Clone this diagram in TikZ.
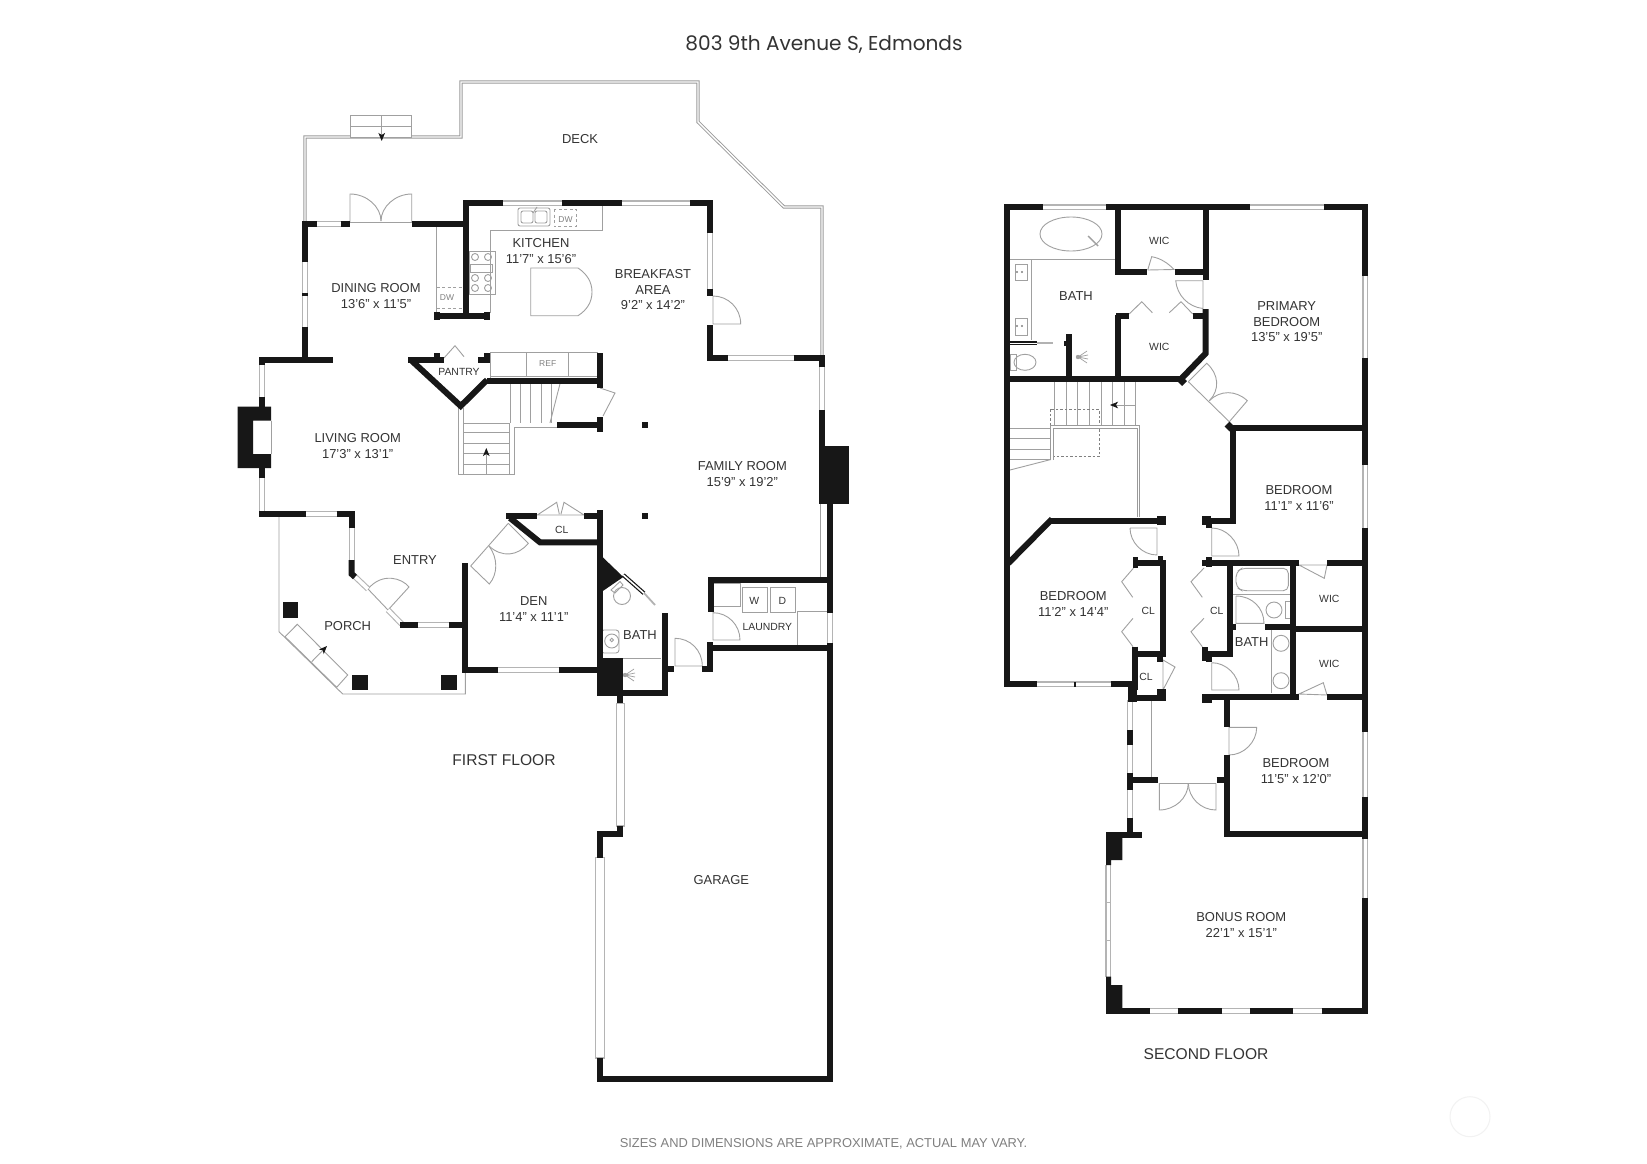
\documentclass[tikz,border=0pt]{standalone}
\usepackage{fontspec}
\setmainfont{Liberation Sans}
\newfontfamily\titlefont{Poppins}
\usetikzlibrary{arrows.meta}
\definecolor{wallc}{HTML}{171717}
\definecolor{txtc}{HTML}{333333}
\definecolor{linec}{HTML}{A0A0A0}
\definecolor{railc}{HTML}{9A9A9A}
\definecolor{winc}{HTML}{B4B4B4}
\tikzset{
  wall/.style={draw=wallc,line width=6pt,line join=miter,line cap=butt},
  block/.style={fill=wallc,draw=none},
  win/.style={draw=winc,double=white,double distance=3.6pt,line width=1.1pt},
  bigwin/.style={draw=winc,fill=white,line width=1.4pt},
  rail/.style={draw=railc,double=white,double distance=1.4pt,line width=0.9pt},
  glass/.style={draw=wallc,double=white,double distance=1.6pt,line width=1.2pt},
  thinl/.style={draw=linec,line width=0.9pt},
  dashl/.style={draw=linec,line width=0.9pt,dash pattern=on 3pt off 2.5pt},
  dashd/.style={draw=gray,line width=0.9pt,dash pattern=on 2.5pt off 2pt},
  arr/.style={draw=linec,line width=0.9pt,-{Stealth[length=8pt,width=6.5pt,inset=2pt,color=wallc]}},
  lab/.style={text=txtc,align=center,inner sep=0pt,yshift=-0.8pt,font=\fontsize{12.95}{15.6}\selectfont},
  small/.style={text=txtc,align=center,inner sep=0pt,yshift=-0.5pt,font=\fontsize{10.4}{12}\selectfont},
  tiny/.style={text=gray,align=center,inner sep=0pt,font=\fontsize{8.5}{10}\selectfont},
  flr/.style={text=txtc,inner sep=0pt,font=\fontsize{15.6}{18}\selectfont},
}
\newcommand{\rays}[2]{\draw[thinl,line width=0.7pt] (#1,#2)--++(9,-6) (#1,#2)--++(10,-2) (#1,#2)--++(10,2) (#1,#2)--++(9,6);\fill[linec] (#1,#2) circle (2.2);}
\begin{document}
\begin{tikzpicture}[x=1pt,y=-1pt]
\useasboundingbox (0,0) rectangle (1647,1164);
\fill[white] (0,0) rectangle (1647,1164);

% ---------- title, notes ----------
\node[text=txtc,inner sep=0pt,font=\fontsize{20.1}{23}\selectfont\titlefont] (title) at (824,45) {803 9th Avenue S, Edmonds};
\node[flr] (firstfloor) at (504,760.5) {FIRST FLOOR};
\node[flr] (secondfloor) at (1206,1054) {SECOND FLOOR};
\node[text=gray,inner sep=0pt,font=\fontsize{12.9}{14}\selectfont] (note) at (823.5,1143.5) {SIZES AND DIMENSIONS ARE APPROXIMATE, ACTUAL MAY VARY.};
\draw[draw=black!5,line width=1pt] (1470,1116.7) circle (20);

% ---------- FIRST FLOOR: deck ----------
\draw[rail] (305,222)--(305,137)--(461,137)--(461,82)--(698,82)--(698,122)--(784,207)--(822,207)--(822,356);
\draw[thinl,fill=white] (350,115) rectangle (411.7,137);
\draw[thinl] (350,126.7)--(411.7,126.7);
\draw[arr] (381.7,115)--(381.7,141);

% ---------- porch ----------
\draw[thinl] (279,516)--(279,631.7)--(342.7,694)--(465.3,694)--(465.3,672);
\draw[thinl] (285,636.7)--(297.3,624.3)--(347.7,675)--(336.7,687.3)--cycle;
\draw[arr] (311.7,661.7)--(327,646);
\fill[block] (282.7,602.3) rectangle (298.3,617.7);
\fill[block] (351.7,674.7) rectangle (367.7,690);
\fill[block] (441,674.7) rectangle (457,690);

% ---------- fixtures, first floor ----------
% dining double door
\draw[thinl] (350,222)--(350,194) .. controls (367,194) and (381,207) .. (381,221);
\draw[thinl] (411.7,222)--(411.7,194) .. controls (395,194) and (381,207) .. (381,221);
\draw[thinl] (350,222)--(411.7,222);
% counters
\draw[thinl] (436.7,224)--(436.7,313);
\draw[dashl] (436.7,287)--(463,287) (436.7,308)--(463,308);
\node[tiny] (dwa) at (447,297.7) {DW};
\draw[thinl] (490,313)--(490,230)--(602,230)--(602,206);
\draw[thinl,rounded corners=2pt] (518,208) rectangle (550,226);
\draw[thinl,rounded corners=2pt] (521,211) rectangle (533,223) (535,211) rectangle (547,223);
\draw[thinl] (533,213)--(537,207);
\draw[dashl] (554,209) rectangle (576,226.7);
\node[tiny] (dwb) at (565.5,219.5) {DW};
\draw[thinl] (469,251.7) rectangle (495,294);
\draw[thinl] (470.7,264) rectangle (492.7,272);
\foreach \cx/\cy in {475/257,488/257,475/278,488/278,475/288,488/288}{\draw[thinl] (\cx,\cy) circle (3.5);}
\draw[thinl] (578,268)--(530.7,268)--(530.7,315.7)--(578,315.7) .. controls (587,310) and (592,302) .. (592,292) .. controls (592,282) and (587,274) .. (578,268);
% breakfast door
\draw[thinl] (713,296)--(713,324)--(740.7,324) .. controls (740.7,308) and (728,296) .. (713,296);
% ref
\draw[thinl] (490,352.7)--(598,352.7) (490,376.7)--(598,376.7) (490,352.7)--(490,380);
\draw[thinl] (526.7,352.7)--(526.7,376.7) (568,352.7)--(568,376.7);
\node[tiny] (ref) at (547.7,364) {REF};
% pantry door
\draw[thinl] (444,358)--(455,345.7)--(464,356.7);
% hall closet door
\draw[thinl] (600,388)--(615,393)--(603,416);
% stairs
\draw[thinl] (458.7,408)--(458.7,474.3)--(514.7,474.3)--(514.7,427.3)--(557,427.3);
\draw[thinl] (463.7,408)--(463.7,474.3) (509.3,423)--(509.3,474.3);
\foreach \ty in {423,432.7,443.3,453.3,464}{\draw[thinl] (463.7,\ty)--(509.3,\ty);}
\foreach \tx in {510,520.3,530.7,541,551.7}{\draw[thinl] (\tx,381)--(\tx,423);}
\draw[thinl] (560.7,381)--(550,423);
\draw[arr] (486.3,474)--(486.3,448);
% posts
\fill[block] (642.3,422.3) rectangle (648.3,428.3);
\fill[block] (642.3,513) rectangle (648.3,519);
% closet door
\draw[thinl] (537.3,515)--(556.7,502.3)--(559.3,514) (584,515)--(564,502.3)--(561,514) (537,515)--(584,515);
% den double door
\draw[thinl] (470.7,566)--(489.3,584) .. controls (498,574) and (498,558) .. (489,546);
\draw[thinl] (508.3,523.3)--(528.3,543.3) .. controls (518,556) and (502,558) .. (489,546);
\draw[thinl] (470.7,566)--(508.3,523.3);
% entry door
\draw[thinl] (388,610)--(409,587) .. controls (402,578) and (382,572) .. (368,589);
\draw[thinl] (368,589)--(388,610);
% bath
\draw[thinl] (622,596) circle (8.5);
\draw[thinl] (611,590)--(620,581.5)--(623,585)--(615,593)--cycle;
\draw[thinl,rounded corners=3pt] (601,630) rectangle (619,653);
\draw[thinl] (611.7,641) circle (7);
\draw[thinl] (611.7,640) circle (1.8);
\draw[thinl] (623,658)--(661,658);
\rays{625}{675}
\draw[thinl,line width=1.8pt,draw=gray!60] (644,593)--(655,605);
\draw[thinl] (675,666)--(675,638.3) .. controls (690,638.3) and (702.3,650) .. (702.3,666)--cycle;
% laundry
\draw[thinl] (713,583)--(740,583)--(740,606.7)--(713,606.7);
\draw[thinl] (742.3,587.3) rectangle (767.3,612.7);
\draw[thinl] (770,587.3) rectangle (795,612.7);
\node[small] (w) at (754.3,600) {W};
\node[small] (d) at (782.3,600) {D};
\node[small] (laundry) at (767.3,626) {LAUNDRY};
\draw[thinl] (797.7,647)--(797.7,611.7)--(828,611.7);
\draw[thinl] (713,612)--(713,640)--(740,640) .. controls (740,625) and (728,612.7) .. (713,612.7);
\draw[thinl] (820,504)--(820,578);
\draw[thinl] (271,420.7)--(271,454);

% ---------- first floor windows ----------
\draw[win] (305,262)--(305,327);
\draw[win] (317,224)--(341,224);
\draw[win] (503,203.3)--(562,203.3);
\draw[win] (622,203.3)--(690,203.3);
\draw[win] (710,233)--(710,292);
\draw[win] (728,358)--(794,358);
\draw[win] (822,367)--(822,410);
\draw[win] (261.7,365)--(261.7,397);
\draw[win] (261.7,478)--(261.7,511);
\draw[win] (306,513.7)--(336.7,513.7);
\draw[win] (351.7,528)--(351.7,560);
\draw[win] (353.3,575)--(368,589);
\draw[win] (388,610)--(401.7,624);
\draw[win] (418,625)--(449,625);
\draw[win] (498,670)--(559,670);
\draw[win] (830,613)--(830,643);
\draw[glass] (623.3,575)--(644,593.3);
\draw[bigwin] (616.3,703.3) rectangle (624.3,826);
\draw[bigwin] (595.7,857.7) rectangle (604.3,1058);

% ---------- first floor walls ----------
\draw[wall] (305,221)--(305,262) (305,327)--(305,360);
\fill[block] (302,292.5) rectangle (308,296);
\draw[wall] (302,224)--(317,224) (341,224)--(350,224) (412,224)--(468,224);
\draw[wall] (503,203.3)--(465.7,203.3)--(465.7,317);
\draw[wall] (562,203.3)--(622,203.3);
\draw[wall] (690,203.3)--(710,203.3)--(710,233);
\draw[wall] (707.3,292)--(712.7,292) (710,292)--(710,296);
\draw[wall] (710,325)--(710,358)--(728,358);
\draw[wall] (794,358)--(825,358);
\draw[wall] (822,355)--(822,367);
\draw[wall] (434,316)--(490,316);
\fill[block] (434,312) rectangle (440,320);
\fill[block] (484,312) rectangle (490,320);
\draw[wall] (261.7,365)--(261.7,360)--(333,360);
\draw[wall] (408,360)--(444,360);
\fill[block] (434,353) rectangle (440,362);
\draw[wall] (412,361)--(460.7,406)--(487,380);
\draw[wall] (478,360)--(490,360);
\fill[block] (484,353) rectangle (490,362);
\draw[wall] (487,380.7)--(602,380.7);
\draw[wall] (599.5,353)--(599.5,388) (599.5,417)--(599.5,432);
\draw[wall] (557,425)--(600,425);
\fill[block] (237.7,406.7)--(271,406.7)--(271,420.7)--(253,420.7)--(253,454)--(271,454)--(271,468)--(237.7,468)--cycle;
\draw[wall] (261.7,397)--(261.7,407) (261.7,468)--(261.7,478);
\draw[wall] (259,513.7)--(306,513.7);
\draw[wall] (336.7,513.7)--(351.7,513.7)--(351.7,528);
\draw[wall] (351.7,560)--(351.7,574)--(355,577);
\draw[wall] (400,625)--(418,625) (449,625)--(465,625);
\draw[wall] (465.3,563)--(465.3,673);
\draw[wall] (463,670)--(498,670) (559,670)--(600,670);
\draw[wall] (600,510)--(600,696);
\draw[wall] (506,516.3)--(537,516.3) (584,516.3)--(600,516.3);
\draw[wall] (510,518)--(540,542.3)--(600,542.3);
\fill[block] (597,551.7)--(623.3,577)--(597,595)--cycle;
\fill[block] (596.7,658.3) rectangle (623.3,696);
\draw[wall] (620,693)--(667,693);
\draw[wall] (664.5,613)--(664.5,696);
\draw[wall] (664,668.7)--(674,668.7);
\draw[wall] (702.3,669)--(712.7,669);
\draw[wall] (710,642)--(710,671.5);
\draw[wall] (620,696)--(620,703.3);
\draw[wall] (708,580)--(833,580);
\draw[wall] (710.7,580)--(710.7,612);
\draw[wall] (710,647.7)--(830,647.7);
\draw[wall] (830,504)--(830,613) (830,643)--(830,1082);
\draw[wall] (597.3,1079.3)--(832.7,1079.3);
\draw[wall] (600,1058)--(600,1082);
\draw[wall] (600,857.7)--(600,834)--(623.3,834);
\draw[wall] (620,826)--(620,837);
\fill[block] (819.3,446) rectangle (849.3,504);
\draw[wall] (822.3,410)--(822.3,446);

% ---------- first floor labels ----------
\node[lab] (deck) at (580,138) {DECK};
\node[lab] (dining) at (376,295) {DINING ROOM\\13’6” x 11’5”};
\node[lab] (kitchen) at (541,250) {KITCHEN\\11’7” x 15’6”};
\node[lab] (breakfast) at (653,289) {BREAKFAST\\AREA\\9’2” x 14’2”};
\node[small] (pantry) at (459,371.7) {PANTRY};
\node[lab] (living) at (357.7,445) {LIVING ROOM\\17’3” x 13’1”};
\node[lab] (family) at (742.3,473) {FAMILY ROOM\\15’9” x 19’2”};
\node[lab] (entry) at (415,559.3) {ENTRY};
\node[small] (cla) at (561.7,529) {CL};
\node[lab] (den) at (533.7,608) {DEN\\11’4” x 11’1”};
\node[lab] (porch) at (347.7,625.7) {PORCH};
\node[lab] (bathb) at (640,634) {BATH};
\node[lab] (garage) at (721.3,879.3) {GARAGE};

% ---------- SECOND FLOOR fixtures ----------
\draw[thinl] (1071,234) ellipse (31 and 17);
\draw[thinl,line width=1.4pt] (1088,236)--(1098,246);
\draw[thinl] (1010,259)--(1118,259);
\draw[thinl] (1031.7,259)--(1031.7,340);
\draw[thinl] (1015,264) rectangle (1027.3,280.7);
\draw[thinl] (1015,318.3) rectangle (1027.3,335);
\fill[gray] (1017,272) circle (1.2) (1022,272) circle (1.2) (1017,326) circle (1.2) (1022,326) circle (1.2);
\draw[thinl] (1025,362.3) ellipse (11 and 8);
\draw[thinl] (1010,354) rectangle (1016,370);
\rays{1078}{357}
\draw[thinl,line width=1.8pt,draw=gray!60] (1037,343.3)--(1052.7,343.3);
\draw[glass] (1010,343.3)--(1037,343.3);
% upper wic door, east door
\draw[thinl] (1147.7,270)--(1151.7,256.7) .. controls (1160,258) and (1168,263) .. (1174,269.5)--(1147.7,270);
\draw[thinl] (1203,280.7)--(1175.7,280.7) .. controls (1177,295) and (1188,307) .. (1203,308.5)--cycle;
% lower wic bifolds
\draw[thinl] (1129.3,314)--(1141.7,301.7)--(1152.3,312.7);
\draw[thinl] (1192.7,314)--(1181,301.7)--(1169.3,312.7);
% primary double door
\draw[thinl] (1188.3,381.7)--(1206.7,363.3) .. controls (1219,374) and (1220,390) .. (1209.3,400.7);
\draw[thinl] (1229.3,421.7)--(1247.3,400.7) .. controls (1236,390) and (1220,390) .. (1209.3,400.7);
\draw[thinl] (1188.3,381.7)--(1229.3,421.7);
% stairs
\foreach \tx in {1054.3,1066,1077.7,1089.3,1101}{\draw[thinl] (\tx,382)--(\tx,426);}
\foreach \tx in {1112.7,1124,1135.7}{\draw[thinl] (\tx,382)--(\tx,425);}
\foreach \ty in {428.3,438.3,449,459.3}{\draw[thinl] (1010,\ty)--(1051.7,\ty);}
\draw[thinl] (1010,470)--(1051.7,459.3);
\draw[arr] (1135.7,405)--(1110,405);
\draw[dashd] (1050,409.3) rectangle (1099,456.7);
\draw[rail] (1052,460)--(1052,427)--(1138.3,427)--(1138.3,517);
% bedroom doors
\draw[thinl] (1130,528)--(1157,528)--(1157,555) .. controls (1142,555) and (1130,542) .. (1130,528);
\draw[thinl] (1211.7,528)--(1211.7,556)--(1239,556) .. controls (1239,541) and (1226,528) .. (1211.7,528);
\draw[thinl] (1211.7,662.7)--(1211.7,690)--(1239,690) .. controls (1239,675) and (1226,662.7) .. (1211.7,662.7);
% closets bifold
\draw[thinl] (1133.3,568.3)--(1121.7,581.7)--(1132.7,597.3);
\draw[thinl] (1133,618.3)--(1121.7,631.7)--(1133,646.7);
\draw[thinl] (1204,568)--(1191,581.7)--(1202.3,597.3);
\draw[thinl] (1204,618.3)--(1191,631.7)--(1202.3,646.7);
\draw[thinl] (1163,660)--(1175,667)--(1163,690)--cycle;
% hall bath
\draw[thinl,rounded corners=5pt] (1288.3,568.3) -- (1242,568.3) -- (1236,572) -- (1236,587) -- (1242,590.7) -- (1288.3,590.7) -- cycle;
\draw[thinl] (1233,594)--(1290,594);
\draw[thinl] (1236,596)--(1236,623.3)--(1264,623.3) .. controls (1264,608) and (1252,596) .. (1236,596);
\draw[thinl] (1274,610) circle (8);
\draw[thinl] (1285,601.7) rectangle (1290,618.3);
\draw[thinl] (1271,630)--(1271,693);
\draw[thinl] (1281,643.3) circle (8);
\draw[thinl] (1281,680.7) circle (8);
\draw[thinl] (1212,694)--(1290,694);
% wic doors
\draw[thinl] (1299,565)--(1324.3,578.3)--(1327,565)--cycle;
\draw[thinl] (1299,694)--(1323.3,682.7)--(1327,695)--cycle;
% hall
\draw[thinl] (1151.7,700)--(1151.7,780);
\draw[thinl] (1159.3,783.3)--(1216,783.3);
\draw[thinl] (1159.3,783.3)--(1159.3,810) .. controls (1175,810) and (1188,798) .. (1188.3,783.3);
\draw[thinl] (1216,783.3)--(1216,810) .. controls (1201,810) and (1188.6,798) .. (1188.3,783.3);
\draw[thinl] (1229,727.3)--(1256.7,727.3) .. controls (1256.7,742) and (1244,755) .. (1229,755)--cycle;

% ---------- second floor windows ----------
\draw[win] (1043,207.3)--(1106,207.3);
\draw[win] (1250,207.3)--(1324.3,207.3);
\draw[win] (1365.3,276)--(1365.3,358);
\draw[win] (1365.3,465)--(1365.3,528);
\draw[win] (1365.3,732)--(1365.3,797);
\draw[win] (1365.3,839)--(1365.3,898);
\draw[win] (1037.3,684.3)--(1110.7,684.3);
\draw[win] (1130,700)--(1130,730);
\draw[win] (1130,745)--(1130,773);
\draw[win] (1130,790)--(1130,818);
\draw[win] (1108.3,865)--(1108.3,976.7);
\draw[win] (1150,1010.7)--(1178.3,1010.7);
\draw[win] (1221.7,1010.7)--(1250,1010.7);
\draw[win] (1293.3,1010.7)--(1321.7,1010.7);
\draw[draw=winc,line width=1pt] (1105.5,902.7)--(1111,902.7) (1105.5,940)--(1111,940);

% ---------- second floor walls ----------
\draw[wall] (1043,207.3)--(1007.3,207.3)--(1007.3,687);
\draw[wall] (1005,684.3)--(1037.3,684.3) (1110.7,684.3)--(1135,684.3);
\fill[block] (1073.5,681.5) rectangle (1076,687);
\draw[wall] (1106,207.3)--(1250,207.3);
\draw[wall] (1324.3,207.3)--(1365.3,207.3)--(1365.3,276);
\draw[wall] (1365.3,358)--(1365.3,465) (1365.3,528)--(1365.3,732) (1365.3,797)--(1365.3,839) (1365.3,898)--(1365.3,1013.3);
\draw[wall] (1106,1010.7)--(1150,1010.7) (1178.3,1010.7)--(1221.7,1010.7) (1250,1010.7)--(1293.3,1010.7) (1321.7,1010.7)--(1368,1010.7);
\fill[block] (1106,832.3)--(1122.3,832.3)--(1122.3,860)--(1111,860)--(1111,865)--(1106,865)--cycle;
\fill[block] (1106,1013.5)--(1106,976.7)--(1111,976.7)--(1111,985)--(1122.3,985)--(1122.3,1013.5)--cycle;
\draw[wall] (1106,835)--(1142.3,835);
\draw[wall] (1129.7,818)--(1129.7,832);
\draw[wall] (1224,834.3)--(1368,834.3);
\draw[wall] (1226.5,755)--(1226.5,837) (1226.5,695)--(1226.5,726.7);
\draw[wall] (1127.3,780)--(1158.3,780) (1216.7,780)--(1226.7,780);
\fill[block] (1127.3,730) rectangle (1132.7,745);
\fill[block] (1127.3,773) rectangle (1132.7,790);
\draw[wall] (1202.3,697.3)--(1299,697.3) (1327.3,697.3)--(1365,697.3);
\draw[wall] (1202,562.7)--(1299,562.7) (1327.3,562.7)--(1365,562.7);
\fill[block] (1202,694) rectangle (1212,702.7);
\fill[block] (1206,556.7) rectangle (1212,567.3);
\draw[wall] (1230,560)--(1230,657);
\draw[wall] (1202.7,654.3)--(1233,654.3);
\fill[block] (1202,646.7) rectangle (1208,661);
\fill[block] (1206,654) rectangle (1212,662);
\draw[wall] (1293.3,560)--(1293.3,700);
\draw[wall] (1293,629)--(1365,629);
\draw[wall] (1265,626.7)--(1293,626.7);
\fill[block] (1232,624) rectangle (1236,630);
\draw[wall] (1050,520.7)--(1165.7,520.7);
\draw[wall] (1052,519)--(1008.3,563.3);
\fill[block] (1157.3,516) rectangle (1165.7,525);
\draw[wall] (1202.3,520.7)--(1233,520.7)--(1233,426);
\fill[block] (1202,516) rectangle (1211,525);
\fill[block] (1206,524) rectangle (1212,528);
\draw[wall] (1230,428)--(1368,428);
\draw[wall] (1133.3,563.3)--(1165.7,563.3);
\fill[block] (1133,557) rectangle (1138,568);
\fill[block] (1157.5,556) rectangle (1163,561);
\draw[wall] (1163.3,560)--(1163.3,656);
\draw[wall] (1135,654)--(1166,654);
\draw[wall] (1135,646.7)--(1135,690);
\fill[block] (1127.7,686.7) rectangle (1137.3,701.7);
\draw[wall] (1130,697.7)--(1165.7,697.7);
\fill[block] (1157.3,689) rectangle (1166,700);
\fill[block] (1157.3,656) rectangle (1163,662);
% upper level
\draw[wall] (1118.3,205)--(1118.3,275);
\draw[wall] (1115.5,272)--(1147.3,272) (1175,272)--(1208.5,272);
\draw[wall] (1205.7,205)--(1205.7,280);
\draw[wall] (1205.7,309)--(1205.7,353.3)--(1181.7,378.3);
\draw[wall] (1118.3,315)--(1118.3,378);
\draw[wall] (1116,315.7)--(1129.3,315.7) (1192.7,315.7)--(1205,315.7);
\draw[wall] (1007,379.3)--(1181,379.3);
\draw[wall] (1069,334.3)--(1069,378);
\fill[block] (1064,340.7) rectangle (1069,346);
\draw[wall,line width=7pt] (1179,378)--(1184.5,383.5);
\draw[wall,line width=7pt] (1227,424)--(1232,429);

% ---------- second floor labels ----------
\node[small] (wica) at (1159.3,240) {WIC};
\node[small] (wicb) at (1159.3,346) {WIC};
\node[lab] (baths) at (1076,295.7) {BATH};
\node[lab] (primary) at (1286.7,321) {PRIMARY\\BEDROOM\\13’5” x 19’5”};
\node[lab] (beda) at (1299,497.2) {BEDROOM\\11’1” x 11’6”};
\node[lab] (bedb) at (1073.3,603.4) {BEDROOM\\11’2” x 14’4”};
\node[small] (clb) at (1148.3,610) {CL};
\node[small] (clc) at (1216.7,610) {CL};
\node[small] (cld) at (1146,676.7) {CL};
\node[small] (wicc) at (1329.3,598.3) {WIC};
\node[small] (wicd) at (1329.3,663.3) {WIC};
\node[lab] (bathc) at (1251.7,641.7) {BATH};
\node[lab] (bedc) at (1296,770.2) {BEDROOM\\11’5” x 12’0”};
\node[lab] (bonus) at (1241.3,924.5) {BONUS ROOM\\22’1” x 15’1”};
\end{tikzpicture}
\end{document}
